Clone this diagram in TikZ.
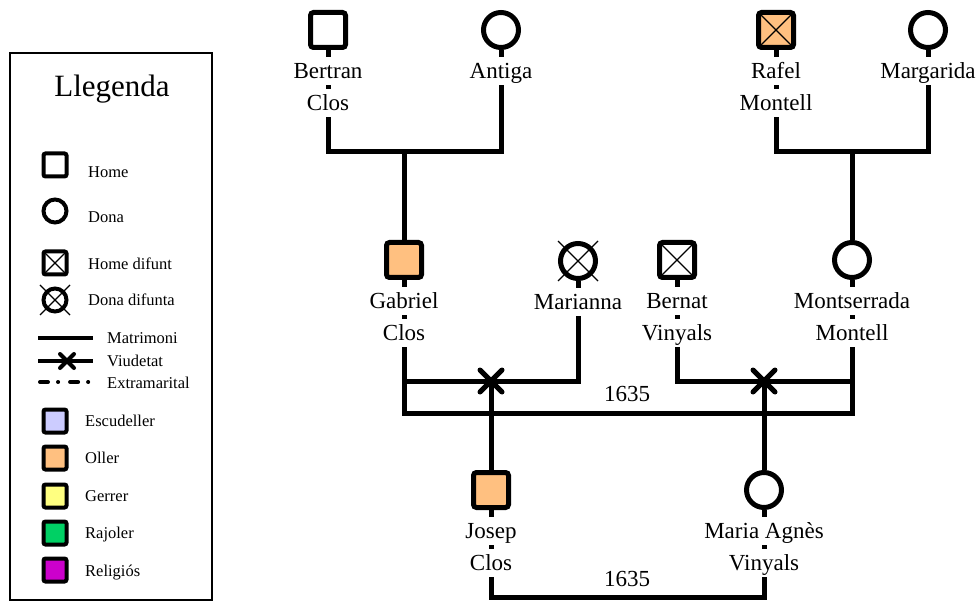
\documentclass[tikz,border=0pt]{standalone}
\usepackage{fontspec}
\setmainfont{Liberation Serif}
\usepackage{xcolor}
\usepackage{tikz}
\usetikzlibrary{positioning}
\definecolor{escudeller}{RGB}{204, 204, 255}
\definecolor{oller}{RGB}{255, 192, 128}
\definecolor{gerrer}{RGB}{255, 255, 128}
\definecolor{rajoler}{RGB}{0, 208, 100}
\definecolor{religios}{RGB}{204, 0, 204}

\begin{document}
\begin{tikzpicture}[
  x=1pt, y=-1pt,
  every node/.style={font=\fontsize{23}{27}\selectfont},
  home/.style={
    draw, line width=5pt, rounded corners=3pt, fill=white,
    minimum size=35pt, inner sep=0pt
  },
  dona/.style={
    draw, circle, line width=5pt, fill=white,
    minimum size=35pt, inner sep=0pt
  },
  petit/.style={line width=4pt, minimum size=23pt, rounded corners=2pt},
  difunt/.style={path picture={
    \draw[line width=1.3pt]
      (path picture bounding box.south west) -- (path picture bounding box.north east)
      (path picture bounding box.north west) -- (path picture bounding box.south east);
  }},
  nom/.style={fill=white, inner sep=2pt, text height=19.5pt, text depth=4.5pt},
  any/.style={inner sep=0pt},
  linia/.style={line width=5pt},
  creu/.style={line width=5pt, line cap=round},
  fina/.style={line width=1.3pt},
  llegenda/.style={font=\fontsize{16.5}{20}\selectfont, anchor=base west, inner sep=0pt}
]
  \useasboundingbox (0,0) rectangle (979,601);

  % Primera generacio
  \node[home] (bertran) at (328,30) {};
  \node[dona] (antiga) at (501,30) {};
  \node[home, difunt, fill=oller] (rafel) at (776,30) {};
  \node[dona] (margarida) at (928,30) {};

  % Segona generacio
  \node[home, fill=oller] (gabriel) at (404,260) {};
  \node[dona] (marianna) at (578,261) {};
  \node[home, difunt] (bernat) at (677,260) {};
  \node[dona] (montserrada) at (852,260) {};

  % Tercera generacio
  \node[home, fill=oller] (josep) at (491,490) {};
  \node[dona] (maria) at (764,490) {};

  % Punts d'unio
  \coordinate (m1) at (404,152);
  \coordinate (m2) at (852,152);
  \coordinate (v1) at (491,381);
  \coordinate (v2) at (764,381);
  \coordinate (m3) at (627,413);
  \coordinate (m4) at (627,597);

  % Matrimonis i fills
  \draw[linia] (bertran.south) |- (m1) -| (antiga.south);
  \draw[linia] (rafel.south) |- (m2) -| (margarida.south);
  \draw[linia] (m1) -- (gabriel.north);
  \draw[linia] (m2) -- (montserrada.north);
  \draw[linia] (gabriel.south) |- (v1) -| (marianna.south);
  \draw[linia] (gabriel.south) |- (m3) -| (montserrada.south);
  \draw[linia] (bernat.south) |- (v2) -| (montserrada.south);
  \draw[linia] (v1) -- (josep.north);
  \draw[linia] (v2) -- (maria.north);
  \draw[linia] (josep.south) |- (m4) -| (maria.south);

  % Viudetats
  \draw[creu] (v1) ++(-11,-11) -- ++(22,22) (v1) ++(-11,11) -- ++(22,-22);
  \draw[creu] (v2) ++(-11,-11) -- ++(22,22) (v2) ++(-11,11) -- ++(22,-22);

  % Dona difunta
  \draw[fina] (marianna.center) ++(-20,-20) -- ++(40,40)
    (marianna.center) ++(-20,20) -- ++(40,-40);

  % Noms
  \node[nom, below=7pt of bertran] (bertran1) {Bertran};
  \node[nom, below=3pt of bertran1] (bertran2) {Clos};
  \node[nom, below=7pt of antiga] (antiga1) {Antiga};
  \node[nom, below=7pt of rafel] (rafel1) {Rafel};
  \node[nom, below=3pt of rafel1] (rafel2) {Montell};
  \node[nom, below=7pt of margarida] (margarida1) {Margarida};
  \node[nom, below=7pt of gabriel] (gabriel1) {Gabriel};
  \node[nom, below=3pt of gabriel1] (gabriel2) {Clos};
  \node[nom, below=7pt of marianna] (marianna1) {Marianna};
  \node[nom, below=7pt of bernat] (bernat1) {Bernat};
  \node[nom, below=3pt of bernat1] (bernat2) {Vinyals};
  \node[nom, below=7pt of montserrada] (montserrada1) {Montserrada};
  \node[nom, below=3pt of montserrada1] (montserrada2) {Montell};
  \node[nom, below=7pt of josep] (josep1) {Josep};
  \node[nom, below=3pt of josep1] (josep2) {Clos};
  \node[nom, below=7pt of maria] (maria1) {Maria Agnès};
  \node[nom, below=3pt of maria1] (maria2) {Vinyals};

  % Anys de casament
  \node[any, above=11pt of m3] (any1) {1635};
  \node[any, above=10pt of m4] (any2) {1635};

  % Llegenda
  \draw[line width=1.2pt] (10,53) rectangle (212,600);
  \node[any, anchor=base, font=\fontsize{31}{36}\selectfont] (titol) at (112,97) {Llegenda};

  \node[home, petit] (s-home) at (55,165) {};
  \node[llegenda] (t-home) at (88,178) {Home};
  \node[dona, petit] (s-dona) at (55,211) {};
  \node[llegenda] (t-dona) at (88,223) {Dona};
  \node[home, petit, difunt] (s-difunt) at (55,263) {};
  \node[llegenda] (t-difunt) at (88,270) {Home difunt};
  \node[dona, petit] (s-difunta) at (55,300) {};
  \draw[fina] (s-difunta.center) ++(-15,-15) -- ++(30,30)
    (s-difunta.center) ++(-15,15) -- ++(30,-30);
  \node[llegenda] (t-difunta) at (88,306) {Dona difunta};

  \draw[line width=4pt] (38,338) -- (93,338);
  \node[llegenda] (t-matrimoni) at (107,343) {Matrimoni};
  \draw[line width=4pt] (38,361) -- (93,361);
  \draw[line width=4pt, line cap=round] (60,354) -- (74,368) (60,368) -- (74,354);
  \node[llegenda] (t-viudetat) at (107,366) {Viudetat};
  \draw[line width=4pt, line cap=round, dash pattern=on 8pt off 10pt on 0.1pt off 12pt]
    (40,382) -- (91,382);
  \node[llegenda] (t-extramarital) at (107,388) {Extramarital};

  \node[home, petit, fill=escudeller] (s-escudeller) at (55,421) {};
  \node[llegenda] (t-escudeller) at (85,426) {Escudeller};
  \node[home, petit, fill=oller] (s-oller) at (55,458) {};
  \node[llegenda] (t-oller) at (85,463) {Oller};
  \node[home, petit, fill=gerrer] (s-gerrer) at (55,496) {};
  \node[llegenda] (t-gerrer) at (85,501) {Gerrer};
  \node[home, petit, fill=rajoler] (s-rajoler) at (55,533) {};
  \node[llegenda] (t-rajoler) at (85,538) {Rajoler};
  \node[home, petit, fill=religios] (s-religios) at (55,570) {};
  \node[llegenda] (t-religios) at (85,576) {Religiós};

\end{tikzpicture}
\end{document}
